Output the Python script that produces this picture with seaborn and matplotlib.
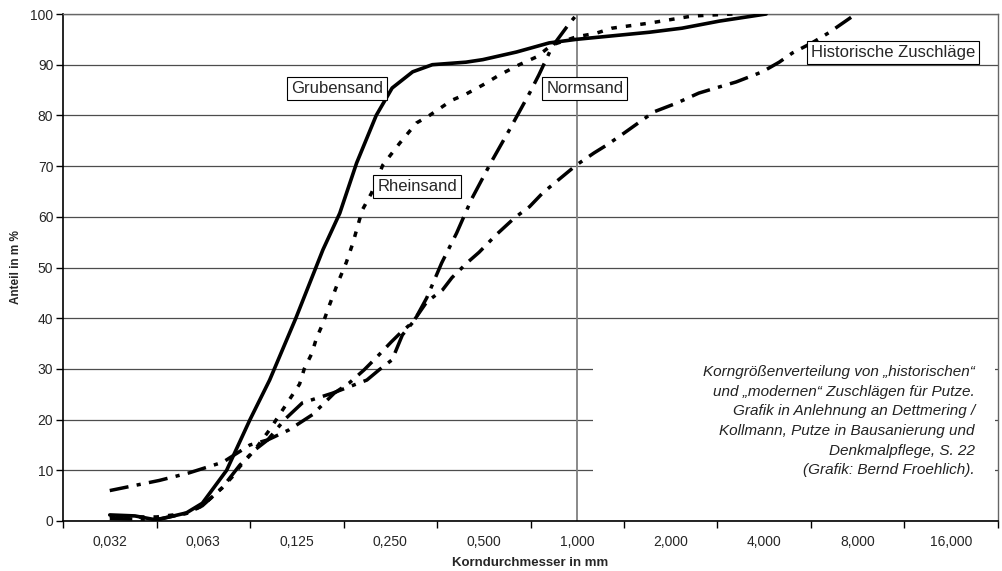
import matplotlib
matplotlib.use("Agg")
import matplotlib.pyplot as plt
import seaborn as sns
import pandas as pd
from matplotlib.patches import Rectangle

# x positions are grain-size classes: 0 = 0,032 mm, 1 = 0,063 mm, ... (log2 steps)
tick_labels = ["0,032", "0,063", "0,125", "0,250", "0,500", "1,000", "2,000", "4,000", "8,000", "16,000"]
y_ticks = [0, 10, 20, 30, 40, 50, 60, 70, 80, 90, 100]

gruben_x = [0, 0.27, 0.50, 0.82, 0.99, 1.25, 1.50, 1.71, 1.99, 2.28, 2.46, 2.64, 2.85, 3.02,
            3.24, 3.45, 3.81, 3.99, 4.35, 4.70, 4.99, 5.77, 6.12, 6.52, 7.02]
gruben_y = [1.2, 1.0, 0.2, 1.6, 3.5, 10, 20, 27.8, 40, 53.5, 60.7, 70.6, 80, 85.4,
            88.6, 90, 90.5, 91, 92.5, 94.3, 95, 96.4, 97.2, 98.6, 100]

rhein_x = [0, 0.27, 0.50, 0.82, 0.99, 1.20, 1.31, 1.39, 1.55, 1.71, 1.87, 2.03, 2.08, 2.16,
           2.21, 2.28, 2.35, 2.44, 2.53, 2.60, 2.70, 2.80, 2.92, 3.10, 3.28, 3.42, 3.66, 3.81,
           3.99, 4.17, 4.38, 4.56, 4.73, 4.99, 5.20, 5.37, 5.77, 6.23, 6.66]
rhein_y = [1.0, 0.8, 0.8, 1.5, 3, 6.5, 8.7, 10.7, 14, 18, 22.5, 27, 30, 33,
           36, 39, 42.6, 47, 51, 54.8, 61.3, 64.7, 70.2, 74.5, 78.5, 80, 83, 84.2,
           86, 88, 90, 91.5, 93.9, 95.5, 96.2, 97.2, 98.2, 99.6, 100]

norm_x = [0, 0.50, 0.82, 0.99, 1.20, 1.39, 1.55, 1.69, 1.87, 2.06, 2.38, 2.75, 2.88, 3.02,
          3.13, 3.26, 3.39, 3.55, 3.71, 3.87, 4.08, 4.27, 4.38, 4.49, 4.59, 4.73, 4.91, 5.0]
norm_y = [0.5, 0.3, 1.5, 3, 6.5, 11, 14, 16, 20, 23.3, 25.2, 27.8, 29.8, 31.8,
          36.7, 39.6, 44, 50.9, 56.8, 63.5, 70.8, 77, 80.7, 84.4, 88, 93.5, 98, 100]

hist_x = [0, 0.53, 0.85, 1.21, 1.50, 1.69, 1.92, 2.17, 2.40, 2.56, 2.72, 2.86, 3.01, 3.12,
          3.24, 3.39, 3.56, 3.66, 3.82, 3.95, 4.13, 4.33, 4.49, 4.63, 4.78, 4.99, 5.18, 5.32,
          5.50, 5.69, 5.82, 6.06, 6.30, 6.48, 6.70, 6.98, 7.16, 7.30, 7.51, 7.69, 7.98]
hist_y = [6, 8, 9.5, 11.6, 15, 16, 18, 21, 25.2, 27.2, 29.8, 32.4, 35.3, 37.3,
          39.2, 43.2, 45.6, 48, 50.9, 53, 56.4, 59.8, 62, 64.7, 67, 70.2, 72.6, 74.2,
          76.5, 79, 80.7, 82.4, 84.4, 85.4, 86.6, 88.6, 90.5, 92.3, 94.3, 96.3, 100]

labels = ["Grubensand", "Rheinsand", "Normsand", "Historische Zuschläge"]
label_pos = [(2.43, 85.4), (3.29, 66.0), (5.08, 85.4), (8.38, 92.5)]

note = ("Korngrößenverteilung von „historischen“\n"
        "und „modernen“ Zuschlägen für Putze.\n"
        "Grafik in Anlehnung an Dettmering /\n"
        "Kollmann, Putze in Bausanierung und\n"
        "Denkmalpflege, S. 22\n"
        "(Grafik: Bernd Froehlich).")

sns.set_style("white")
plt.rcParams["font.family"] = ["Liberation Sans", "DejaVu Sans"]

fig = plt.figure(figsize=(10.03, 5.71), dpi=100)
ax = fig.add_axes([63 / 1003, 50 / 571, 935 / 1003, 507 / 571])

series = [
    (gruben_x, gruben_y, "-", 2.6),
    (rhein_x, rhein_y, (0, (1.6, 2.6)), 2.5),
    (norm_x, norm_y, (0, (6.5, 2.4, 1.2, 2.4)), 2.5),
    (hist_x, hist_y, (0, (5.5, 2.4, 1.2, 2.4)), 2.5),
]
for xs, ys, ls, lw in series:
    df = pd.DataFrame({"x": xs, "y": ys})
    sns.lineplot(data=df, x="x", y="y", ax=ax, color="black", linestyle=ls,
                 linewidth=lw, estimator=None, sort=True, zorder=3)

ax.set_xlim(-0.5, 9.5)
ax.set_ylim(0, 100)
ax.set_axisbelow(True)
ax.yaxis.grid(True, color="#4d4d4d", linewidth=0.9)
ax.xaxis.grid(False)

# vertical marker at 1,000 mm
ax.axvline(5, color="#808080", linewidth=1.3, zorder=2)

# white area behind the note
ax.add_patch(Rectangle((0.567, 0.03), 0.43, 0.31, transform=ax.transAxes,
                       facecolor="white", edgecolor="none", zorder=1))

ax.set_xticks(range(10))
ax.set_xticklabels(tick_labels, fontsize=10)
ax.set_xticks([i - 0.5 for i in range(11)], minor=True)
ax.tick_params(axis="x", which="major", length=0, pad=10)
ax.tick_params(axis="x", which="minor", length=5, width=1, color="black", direction="out", bottom=True)
ax.set_yticks(y_ticks)
ax.set_yticklabels([str(v) for v in y_ticks], fontsize=10)
ax.tick_params(axis="y", length=5, width=1, color="black", direction="out", pad=2, left=True)

for side in ["left", "bottom"]:
    ax.spines[side].set_color("black")
    ax.spines[side].set_linewidth(1.2)
for side in ["top", "right"]:
    ax.spines[side].set_color("#666666")
    ax.spines[side].set_linewidth(1.0)

ax.set_xlabel("Korndurchmesser in mm", fontsize=9.5, fontweight="bold", labelpad=6)
ax.set_ylabel("Anteil in m %", fontsize=8.5, fontweight="bold", labelpad=6)

for txt, (px, py) in zip(labels, label_pos):
    ax.text(px, py, txt, fontsize=12, ha="center", va="center", zorder=5,
            bbox=dict(boxstyle="square,pad=0.24", facecolor="white", edgecolor="black", linewidth=0.8))

ax.text(0.9754, 0.308, note, transform=ax.transAxes, ha="right", va="top",
        multialignment="right", fontsize=11, style="italic", color="#222222",
        linespacing=1.52, zorder=5)

fig.savefig("out.png", dpi=100)
